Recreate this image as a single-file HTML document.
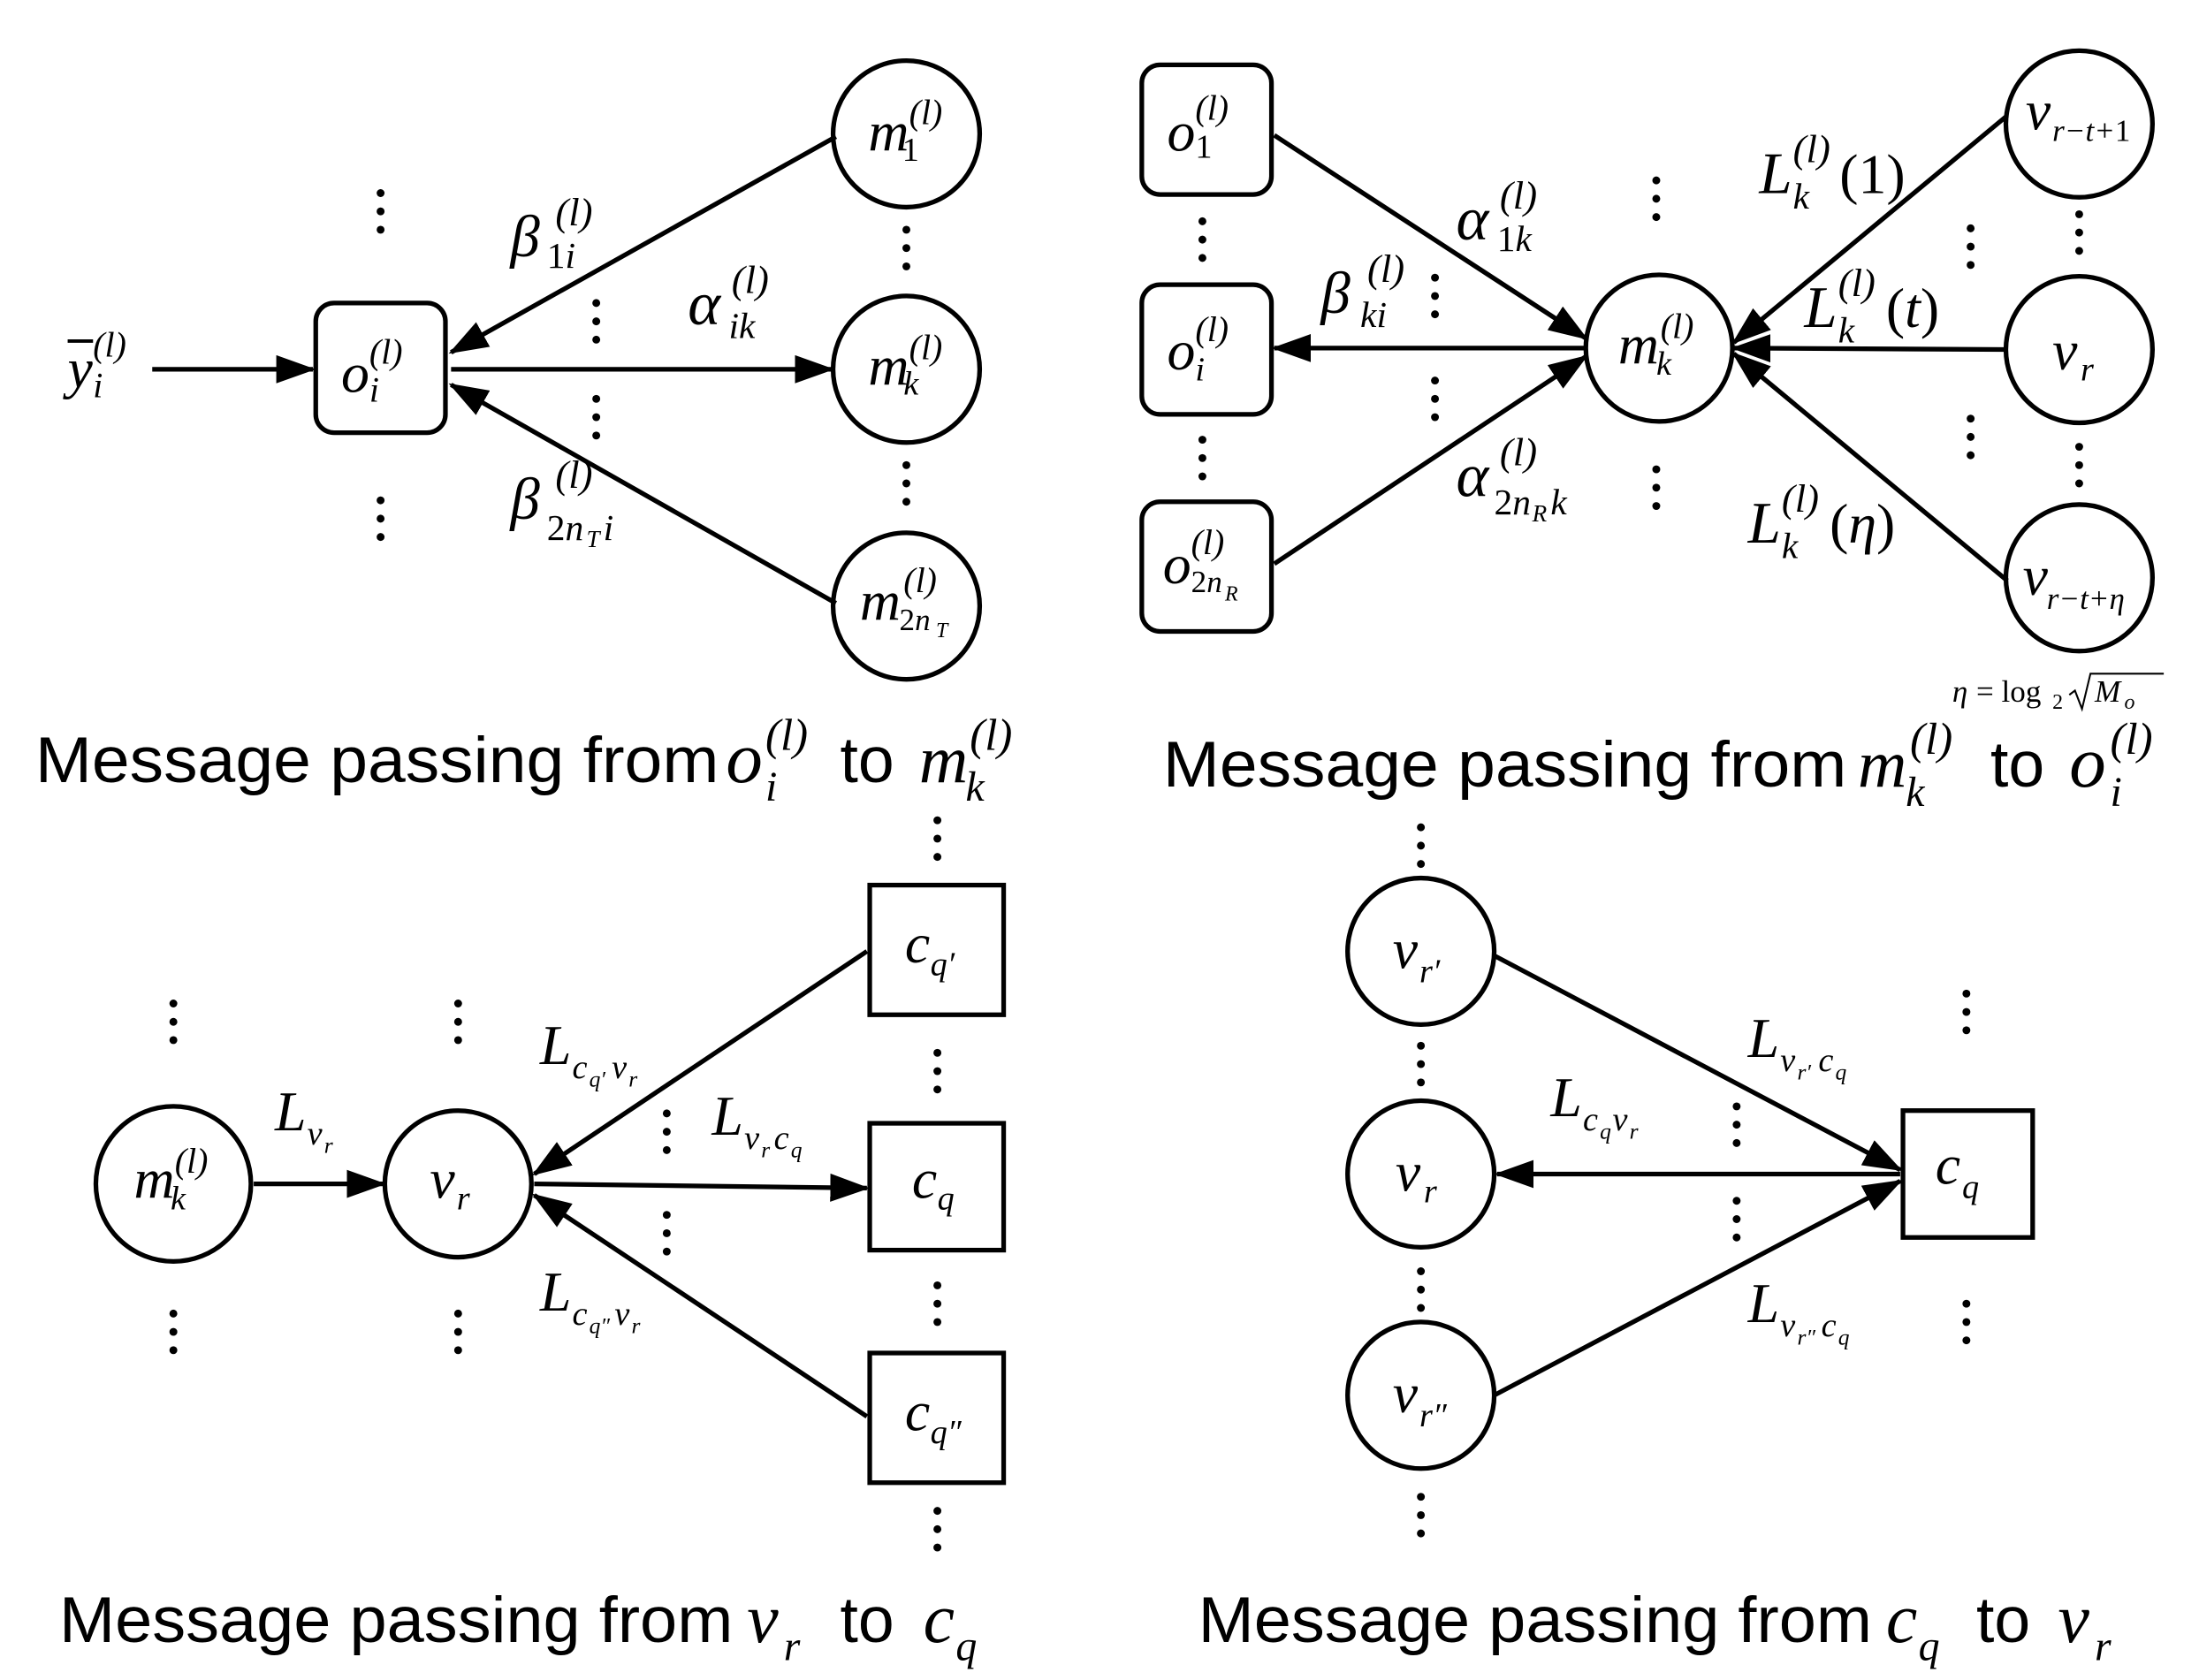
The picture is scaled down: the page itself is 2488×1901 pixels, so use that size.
<!DOCTYPE html>
<html><head><meta charset="utf-8"><style>
html,body{margin:0;padding:0;background:#fff;}
svg{display:block;}
.m{font-family:"Liberation Serif",serif;font-style:italic;fill:#000;}
.r{font-family:"Liberation Serif",serif;fill:#000;}
.n{font-style:normal;}
.c{font-family:"Liberation Sans","Noto Sans CJK KR",sans-serif;font-size:46px;fill:#000;}
</style></head><body>
<svg width="2488" height="1901" viewBox="0 0 1560 1192" preserveAspectRatio="none" xmlns="http://www.w3.org/2000/svg">
<defs>
<marker id="a" markerUnits="userSpaceOnUse" markerWidth="28" markerHeight="20" refX="26" refY="10" orient="auto"><path d="M0,0 L28,10 L0,20 z" fill="#000"/></marker>
<g id="d"><circle cx="0" cy="0" r="2.8"/><circle cx="0" cy="13" r="2.8"/><circle cx="0" cy="26" r="2.8"/></g>
</defs>
<g stroke="#000" stroke-width="3.3" fill="none">
<rect x="224" y="215" width="92" height="92" rx="13"/>
<circle cx="643" cy="95" r="52"/><circle cx="643" cy="262" r="52"/><circle cx="643" cy="430" r="52"/>
<line x1="108" y1="262" x2="222" y2="262" marker-end="url(#a)"/>
<line x1="593" y1="97" x2="320" y2="250" marker-end="url(#a)"/>
<line x1="320" y1="262" x2="590" y2="262" marker-end="url(#a)"/>
<line x1="593" y1="428" x2="320" y2="273" marker-end="url(#a)"/>
<rect x="810" y="46" width="92" height="92" rx="13"/>
<rect x="810" y="202" width="92" height="92" rx="13"/>
<rect x="810" y="356" width="92" height="92" rx="13"/>
<circle cx="1177" cy="247" r="52"/>
<circle cx="1475" cy="88" r="52"/><circle cx="1475" cy="248" r="52"/><circle cx="1475" cy="410" r="52"/>
<line x1="904" y1="96" x2="1125" y2="240" marker-end="url(#a)"/>
<line x1="1125" y1="247" x2="904" y2="247" marker-end="url(#a)"/>
<line x1="904" y1="400" x2="1125" y2="253" marker-end="url(#a)"/>
<line x1="1424" y1="82" x2="1230" y2="243" marker-end="url(#a)"/>
<line x1="1423" y1="248" x2="1230" y2="247" marker-end="url(#a)"/>
<line x1="1424" y1="412" x2="1230" y2="251" marker-end="url(#a)"/>
<circle cx="123" cy="840" r="55"/><circle cx="325" cy="840" r="52"/>
<rect x="617" y="628" width="95" height="92"/>
<rect x="617" y="797" width="95" height="90"/>
<rect x="617" y="960" width="95" height="92"/>
<line x1="180" y1="840" x2="272" y2="840" marker-end="url(#a)"/>
<line x1="615" y1="675" x2="379" y2="833" marker-end="url(#a)"/>
<line x1="379" y1="840" x2="615" y2="843" marker-end="url(#a)"/>
<line x1="615" y1="1005" x2="379" y2="848" marker-end="url(#a)"/>
<circle cx="1008" cy="675" r="52"/><circle cx="1008" cy="833" r="52"/><circle cx="1008" cy="990" r="52"/>
<rect x="1350" y="788" width="92" height="90"/>
<line x1="1060" y1="678" x2="1348" y2="830" marker-end="url(#a)"/>
<line x1="1348" y1="833" x2="1062" y2="833" marker-end="url(#a)"/>
<line x1="1060" y1="990" x2="1348" y2="838" marker-end="url(#a)"/>
</g>
<g fill="#000">
<use href="#d" x="270" y="137"/><use href="#d" x="270" y="355"/>
<use href="#d" x="423" y="215"/><use href="#d" x="423" y="283"/>
<use href="#d" x="643" y="163"/><use href="#d" x="643" y="330"/>
<use href="#d" x="853" y="157"/><use href="#d" x="853" y="312"/>
<use href="#d" x="1175" y="128"/><use href="#d" x="1175" y="333"/>
<use href="#d" x="1018" y="197"/><use href="#d" x="1018" y="270"/>
<use href="#d" x="1398" y="162"/><use href="#d" x="1398" y="297"/>
<use href="#d" x="1475" y="152"/><use href="#d" x="1475" y="317"/>
<use href="#d" x="123" y="712"/><use href="#d" x="123" y="932"/>
<use href="#d" x="325" y="712"/><use href="#d" x="325" y="932"/>
<use href="#d" x="473" y="790"/><use href="#d" x="473" y="862"/>
<use href="#d" x="665" y="582"/><use href="#d" x="665" y="747"/><use href="#d" x="665" y="912"/><use href="#d" x="665" y="1072"/>
<use href="#d" x="1008" y="587"/><use href="#d" x="1008" y="742"/><use href="#d" x="1008" y="902"/><use href="#d" x="1008" y="1062"/>
<use href="#d" x="1395" y="705"/><use href="#d" x="1395" y="925"/>
<use href="#d" x="1232" y="785"/><use href="#d" x="1232" y="852"/>
</g>
<text class="m" x="48" y="275" font-size="40">y</text><line x1="48" y1="242" x2="66" y2="242" stroke="#000" stroke-width="2.5"/>
<text class="m" x="66" y="253" font-size="25">(l)</text><text class="m" x="66" y="282" font-size="25">i</text>
<text class="m" x="242" y="278" font-size="40">o</text><text class="m" x="262" y="258" font-size="25">(l)</text><text class="m" x="262" y="285" font-size="25">i</text>
<text class="m" x="616" y="107" font-size="40">m</text><text class="m" x="645" y="88" font-size="25">(l)</text><text class="r" x="640" y="114" font-size="24">1</text>
<text class="m" x="616" y="273" font-size="40">m</text><text class="m" x="645" y="255" font-size="25">(l)</text><text class="m" x="641" y="280" font-size="24">k</text>
<text class="m" x="610" y="440" font-size="40">m</text><text class="m" x="641" y="420" font-size="25">(l)</text><text class="m" x="638" y="447" font-size="22"><tspan class="n">2</tspan><tspan>n</tspan></text><text class="m" x="664" y="452" font-size="15">T</text>
<text class="m" x="362" y="182" font-size="42">β</text><text class="m" x="394" y="160" font-size="28">(l)</text><text class="m" x="388" y="190" font-size="26"><tspan class="n">1</tspan><tspan>i</tspan></text>
<text class="m" x="488" y="230" font-size="44">α</text><text class="m" x="519" y="208" font-size="28">(l)</text><text class="m" x="517" y="240" font-size="26">ik</text>
<text class="m" x="362" y="368" font-size="42">β</text><text class="m" x="394" y="346" font-size="28">(l)</text><text class="m" x="388" y="383" font-size="26"><tspan class="n">2</tspan><tspan>n</tspan></text><text class="m" x="416" y="388" font-size="17">T</text><text class="m" x="428" y="383" font-size="26">i</text>
<text class="c" x="25" y="555" textLength="485" lengthAdjust="spacingAndGlyphs">Message passing from</text>
<text class="m" x="515" y="555" font-size="52">o</text><text class="m" x="543" y="532" font-size="32">(l)</text><text class="m" x="543" y="568" font-size="30">i</text>
<text class="c" x="596" y="555">to</text>
<text class="m" x="652" y="555" font-size="48">m</text><text class="m" x="688" y="532" font-size="32">(l)</text><text class="m" x="685" y="568" font-size="30">k</text>
<text class="m" x="828" y="107" font-size="40">o</text><text class="m" x="848" y="85" font-size="25">(l)</text><text class="r" x="848" y="112" font-size="24">1</text>
<text class="m" x="828" y="262" font-size="40">o</text><text class="m" x="848" y="242" font-size="25">(l)</text><text class="m" x="848" y="270" font-size="24">i</text>
<text class="m" x="825" y="414" font-size="40">o</text><text class="m" x="845" y="393" font-size="25">(l)</text><text class="m" x="845" y="420" font-size="22"><tspan class="n">2</tspan><tspan>n</tspan></text><text class="m" x="869" y="426" font-size="15">R</text>
<text class="m" x="1148" y="258" font-size="40">m</text><text class="m" x="1178" y="240" font-size="25">(l)</text><text class="m" x="1175" y="266" font-size="24">k</text>
<text class="m" x="1437" y="92" font-size="40">v</text><text class="m" x="1456" y="100" font-size="22">r−t+<tspan class="n">1</tspan></text>
<text class="m" x="1456" y="262" font-size="40">v</text><text class="m" x="1476" y="270" font-size="24">r</text>
<text class="m" x="1435" y="422" font-size="40">v</text><text class="m" x="1452" y="432" font-size="22">r−t+η</text>
<text class="m" x="1033" y="170" font-size="44">α</text><text class="m" x="1064" y="148" font-size="28">(l)</text><text class="m" x="1062" y="178" font-size="26"><tspan class="n">1</tspan>k</text>
<text class="m" x="937" y="222" font-size="42">β</text><text class="m" x="970" y="200" font-size="28">(l)</text><text class="m" x="965" y="232" font-size="26">ki</text>
<text class="m" x="1033" y="352" font-size="44">α</text><text class="m" x="1064" y="330" font-size="28">(l)</text><text class="m" x="1060" y="365" font-size="26"><tspan class="n">2</tspan><tspan>n</tspan></text><text class="m" x="1087" y="370" font-size="17">R</text><text class="m" x="1100" y="365" font-size="26">k</text>
<text class="m" x="1248" y="137" font-size="42">L</text><text class="m" x="1272" y="115" font-size="28">(l)</text><text class="m" x="1272" y="148" font-size="26">k</text><text class="r" x="1305" y="137" font-size="40">(1)</text>
<text class="m" x="1280" y="232" font-size="42">L</text><text class="m" x="1304" y="210" font-size="28">(l)</text><text class="m" x="1304" y="243" font-size="26">k</text><text class="r" x="1338" y="232" font-size="40">(<tspan font-style="italic">t</tspan>)</text>
<text class="m" x="1240" y="385" font-size="42">L</text><text class="m" x="1264" y="363" font-size="28">(l)</text><text class="m" x="1264" y="396" font-size="26">k</text><text class="r" x="1298" y="385" font-size="40">(<tspan font-style="italic">η</tspan>)</text>
<text class="m" x="1385" y="498" font-size="22">η</text><text class="r" x="1402" y="498" font-size="22">= log</text><text class="r" x="1456" y="503" font-size="15">2</text>
<path d="M1468,493 L1472,490 L1477,503 L1483,478 L1535,478" stroke="#000" stroke-width="1.3" fill="none"/><text class="m" x="1486" y="498" font-size="22">M</text><text class="m" x="1507" y="503" font-size="15">o</text>
<text class="c" x="825" y="558" textLength="485" lengthAdjust="spacingAndGlyphs">Message passing from</text>
<text class="m" x="1318" y="558" font-size="48">m</text><text class="m" x="1355" y="535" font-size="32">(l)</text><text class="m" x="1352" y="572" font-size="30">k</text>
<text class="c" x="1412" y="558">to</text>
<text class="m" x="1468" y="558" font-size="52">o</text><text class="m" x="1497" y="535" font-size="32">(l)</text><text class="m" x="1497" y="572" font-size="30">i</text>
<text class="m" x="95" y="850" font-size="40">m</text><text class="m" x="124" y="832" font-size="25">(l)</text><text class="m" x="121" y="858" font-size="24">k</text>
<text class="m" x="305" y="850" font-size="40">v</text><text class="m" x="324" y="858" font-size="24">r</text>
<text class="m" x="642" y="683" font-size="40">c</text><text class="m" x="660" y="692" font-size="24">q′</text>
<text class="m" x="647" y="850" font-size="40">c</text><text class="m" x="665" y="858" font-size="24">q</text>
<text class="m" x="642" y="1015" font-size="40">c</text><text class="m" x="660" y="1024" font-size="24">q″</text>
<text class="m" x="195" y="802" font-size="40">L</text><text class="m" x="218" y="812" font-size="24">v</text><text class="m" x="230" y="818" font-size="16">r</text>
<text class="m" x="383" y="755" font-size="40">L</text><text class="m" x="406" y="765" font-size="24">c</text><text class="m" x="418" y="771" font-size="16">q′</text><text class="m" x="434" y="765" font-size="24">v</text><text class="m" x="446" y="771" font-size="16">r</text>
<text class="m" x="505" y="805" font-size="40">L</text><text class="m" x="528" y="815" font-size="24">v</text><text class="m" x="540" y="821" font-size="16">r</text><text class="m" x="549" y="815" font-size="24">c</text><text class="m" x="561" y="821" font-size="16">q</text>
<text class="m" x="383" y="930" font-size="40">L</text><text class="m" x="406" y="940" font-size="24">c</text><text class="m" x="418" y="946" font-size="16">q″</text><text class="m" x="436" y="940" font-size="24">v</text><text class="m" x="448" y="946" font-size="16">r</text>
<text class="c" x="42" y="1165" textLength="478" lengthAdjust="spacingAndGlyphs">Message passing from</text>
<text class="m" x="530" y="1165" font-size="50">v</text><text class="m" x="556" y="1178" font-size="30">r</text>
<text class="c" x="596" y="1165">to</text>
<text class="m" x="655" y="1165" font-size="50">c</text><text class="m" x="678" y="1178" font-size="30">q</text>
<text class="m" x="988" y="687" font-size="40">v</text><text class="m" x="1007" y="697" font-size="24">r′</text>
<text class="m" x="990" y="845" font-size="40">v</text><text class="m" x="1010" y="853" font-size="24">r</text>
<text class="m" x="988" y="1002" font-size="40">v</text><text class="m" x="1007" y="1012" font-size="24">r″</text>
<text class="m" x="1373" y="840" font-size="40">c</text><text class="m" x="1392" y="850" font-size="24">q</text>
<text class="m" x="1240" y="750" font-size="40">L</text><text class="m" x="1263" y="760" font-size="24">v</text><text class="m" x="1275" y="766" font-size="16">r′</text><text class="m" x="1290" y="760" font-size="24">c</text><text class="m" x="1302" y="766" font-size="16">q</text>
<text class="m" x="1100" y="792" font-size="40">L</text><text class="m" x="1123" y="802" font-size="24">c</text><text class="m" x="1135" y="808" font-size="16">q</text><text class="m" x="1144" y="802" font-size="24">v</text><text class="m" x="1156" y="808" font-size="16">r</text>
<text class="m" x="1240" y="938" font-size="40">L</text><text class="m" x="1263" y="948" font-size="24">v</text><text class="m" x="1275" y="954" font-size="16">r″</text><text class="m" x="1292" y="948" font-size="24">c</text><text class="m" x="1304" y="954" font-size="16">q</text>
<text class="c" x="850" y="1165" textLength="478" lengthAdjust="spacingAndGlyphs">Message passing from</text>
<text class="m" x="1338" y="1165" font-size="50">c</text><text class="m" x="1361" y="1178" font-size="30">q</text>
<text class="c" x="1402" y="1165">to</text>
<text class="m" x="1460" y="1165" font-size="50">v</text><text class="m" x="1486" y="1178" font-size="30">r</text>
</svg>
</body></html>
